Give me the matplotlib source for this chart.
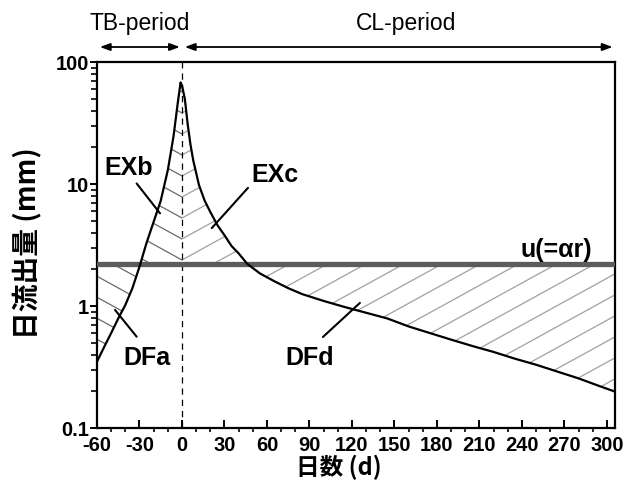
import numpy as np
import matplotlib
matplotlib.use('Agg')
import matplotlib.pyplot as plt
from matplotlib.collections import LineCollection
from matplotlib.path import Path
from matplotlib.ticker import MultipleLocator, LogLocator, NullFormatter

# 日流出量の推移 (日, mm)
days = [-60, -55, -50, -45, -40, -35, -30, -25, -20, -15, -10, -6, -3, -1, 0,
        2, 4, 6, 8, 12, 16, 20, 25, 30, 35, 40, 46, 55, 65, 75, 85, 100,
        115, 130, 145, 160, 175, 190, 205, 220, 235, 250, 265, 280, 295, 305]
flow = [0.35, 0.46, 0.60, 0.79, 1.02, 1.4, 2.1, 3.3, 4.9, 7.3, 13.0, 24.5, 46, 68, 64,
        50, 31, 21, 15.5, 9.8, 7.3, 5.9, 4.6, 3.8, 3.1, 2.7, 2.22, 1.85, 1.6, 1.4, 1.25, 1.1,
        0.98, 0.88, 0.79, 0.68, 0.60, 0.53, 0.47, 0.42, 0.37, 0.33, 0.29, 0.255, 0.22, 0.20]
u_value = 2.2
x_ticks = list(range(-60, 301, 30))
y_ticks = [0.1, 1, 10, 100]
y_labels = ['0.1', '1', '10', '100']

plt.rcParams['font.family'] = ['Liberation Sans', 'DejaVu Sans']
cjk = ['Noto Sans CJK JP', 'DejaVu Sans']

fig = plt.figure(figsize=(6.29, 4.93), dpi=100)
ax = fig.add_axes([97/629, 1 - 428/493, (615 - 97)/629, (428 - 62)/493])
ax.set_yscale('log')
ax.set_xlim(-60, 305.7)
ax.set_ylim(0.1, 100)

days = np.array(days, dtype=float)
flow = np.array(flow)

# 領域 (左: 0日以前, 右: 0日以降)
left = days <= 0
right = days >= 0
regions = {}
for name, m, above in [('EXb', left, True), ('EXc', right, True),
                       ('DFa', left, False), ('DFd', right, False)]:
    x, y = days[m], flow[m]
    cond = y >= u_value if above else y <= u_value
    poly = ax.fill_between(x, y, u_value, where=cond, interpolate=True,
                           facecolor='none', edgecolor='none', lw=0)
    regions[name] = Path.make_compound_path(*poly.get_paths())

# ハッチング (0日で山形になるように)
W, H = ax.bbox.width, ax.bbox.height
x0 = ax.transData.transform((0, 1))[0] - ax.bbox.x0
slope, gap = 0.55, 21.0
def hatch(path, sign, color):
    segs = []
    for k in range(-60, 60):
        c = k * gap
        xa, xb = -10.0, W + 10.0
        ya = c + sign * slope * (xa - x0)
        yb = c + sign * slope * (xb - x0)
        segs.append([(xa / W, ya / H), (xb / W, yb / H)])
    lc = LineCollection(segs, colors=color, linewidths=0.9, transform=ax.transAxes)
    ax.add_collection(lc)
    lc.set_clip_path(path, ax.transData)

hatch(regions['EXb'], -1, '#6a6a6a')
hatch(regions['DFa'], -1, '#6a6a6a')
hatch(regions['EXc'], 1, '#a0a0a0')
hatch(regions['DFd'], 1, '#a0a0a0')

ax.axhline(u_value, color='#5c5c5c', lw=3.8, zorder=3)
ax.axvline(0, color='black', lw=0.9, ls=(0, (5, 4)), zorder=2)
ax.plot(days, flow, color='black', lw=1.6, zorder=4)

# 注記
lab = dict(fontsize=18, fontweight='bold', ha='center', va='baseline', zorder=5)
ax.text(-37.4, 11.9, 'EXb', **lab)
ax.text(65.6, 10.4, 'EXc', **lab)
ax.text(-24.9, 0.328, 'DFa', **lab)
ax.text(90.3, 0.328, 'DFd', **lab)
ax.text(264.4, 2.53, 'u(=αr)', **lab)
lead = dict(arrowstyle='-', lw=1.5, color='black', shrinkA=0, shrinkB=0)
for a, b in [((-32, 10.1), (-15.5, 5.75)), ((46.6, 9.3), (21, 4.35)),
             ((-47.3, 0.93), (-32, 0.56)), ((125.6, 1.06), (99.5, 0.557))]:
    ax.annotate('', xy=b, xytext=a, arrowprops=lead, zorder=5)

# 期間の矢印
trans = ax.get_xaxis_transform()
arr = dict(arrowstyle='<|-|>,head_length=0.6,head_width=0.22', lw=1.3,
           color='black', shrinkA=0, shrinkB=0)
ax.annotate('', xy=(-1.5, 1.041), xytext=(-58, 1.041), xycoords=trans,
            textcoords=trans, arrowprops=arr, annotation_clip=False)
ax.annotate('', xy=(304, 1.041), xytext=(2, 1.041), xycoords=trans,
            textcoords=trans, arrowprops=arr, annotation_clip=False)
ax.text(-30, 1.087, 'TB-period', transform=trans, ha='center', va='baseline', fontsize=16.5)
ax.text(158, 1.087, 'CL-period', transform=trans, ha='center', va='baseline', fontsize=16.5)

# 軸
ax.set_xticks(x_ticks, labels=[str(t) for t in x_ticks])
ax.xaxis.set_minor_locator(MultipleLocator(10))
ax.set_yticks(y_ticks, labels=y_labels)
ax.yaxis.set_minor_locator(LogLocator(base=10, subs=np.arange(2, 10)))
ax.yaxis.set_minor_formatter(NullFormatter())
ax.tick_params(axis='x', which='major', direction='in', length=6, width=1.4, pad=6)
ax.tick_params(axis='x', which='minor', direction='out', length=3, width=1.2)
ax.tick_params(axis='y', which='major', direction='out', length=5, width=1.4, pad=1)
ax.tick_params(axis='y', which='minor', direction='out', length=4, width=1.2)
for t in ax.get_xticklabels() + ax.get_yticklabels():
    t.set_fontsize(14.5)
    t.set_fontweight('bold')
for s in ax.spines.values():
    s.set_linewidth(1.6)

fig.text(339/629, 1 - 467/493, '日数 (d)', family=cjk, fontweight='bold',
         fontsize=17, ha='center', va='center')
fig.text(27/629, 1 - 243/493, '日流出量 (mm)', family=cjk, fontweight='bold',
         fontsize=20, ha='center', va='center', rotation=90)

fig.savefig('out.png', dpi=100)
